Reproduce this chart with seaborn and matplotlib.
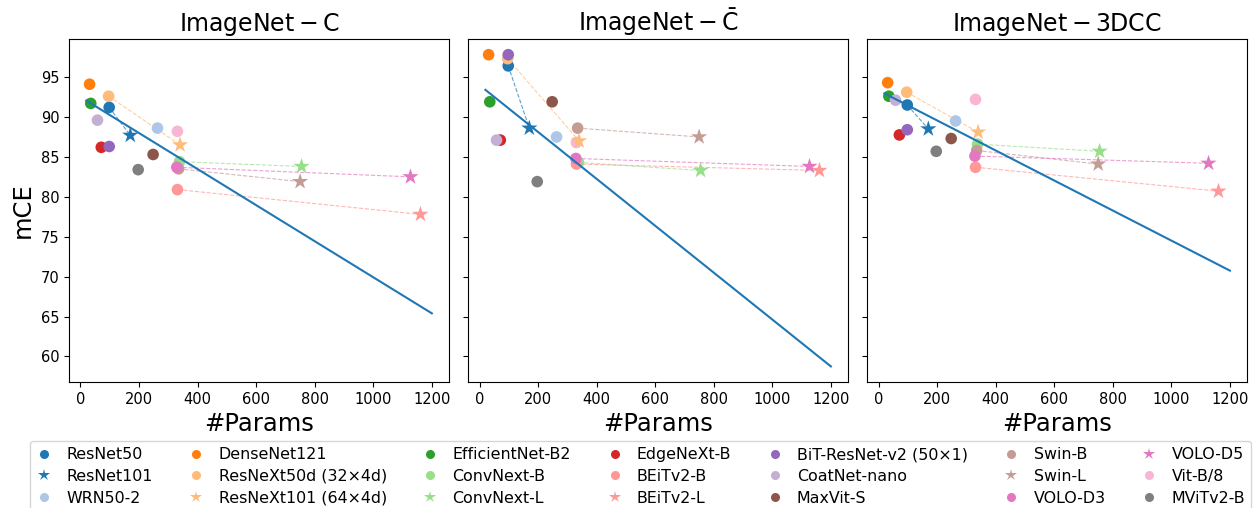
import numpy as np
import pandas as pd
import matplotlib
matplotlib.use("Agg")
import matplotlib.pyplot as plt
from matplotlib.lines import Line2D
import seaborn as sns

# model names, in legend order
models = [
    "ResNet50", "ResNet101", "WRN50-2",
    "DenseNet121", "ResNeXt50d (32×4d)", "ResNeXt101 (64×4d)",
    "EfficientNet-B2", "ConvNext-B", "ConvNext-L",
    "EdgeNeXt-B", "BEiTv2-B", "BEiTv2-L",
    "BiT-ResNet-v2 (50×1)", "CoatNet-nano", "MaxVit-S",
    "Swin-B", "Swin-L", "VOLO-D3",
    "VOLO-D5", "Vit-B/8", "MViTv2-B",
]

params = [98, 170, 263, 31, 96, 340, 35, 338, 755, 71, 331, 1161,
          98, 58, 248, 335, 750, 329, 1127, 331, 197]

mce_c = [91.2, 87.7, 88.6, 94.1, 92.6, 86.5, 91.7, 84.4, 83.8, 86.2, 80.9, 77.8,
         86.3, 89.6, 85.3, 83.5, 81.9, 83.7, 82.5, 88.2, 83.4]
mce_cbar = [96.4, 88.6, 87.5, 97.8, 97.3, 87.0, 91.9, 84.3, 83.3, 87.1, 84.1, 83.3,
            97.8, 87.1, 91.9, 88.6, 87.5, 84.8, 83.8, 86.8, 81.9]
mce_3dcc = [91.5, 88.5, 89.5, 94.3, 93.1, 88.1, 92.6, 86.6, 85.7, 87.75, 83.7, 80.7,
            88.4, 92.1, 87.3, 85.8, 84.1, 85.1, 84.2, 92.2, 85.7]

# trend line endpoints per benchmark
trend_x = [20, 1200]
trend_c = [92.05, 65.4]
trend_cbar = [93.4, 58.75]
trend_3dcc = [92.95, 70.75]

# pairs of (small, large) variants joined by dashed lines
pairs = [("ResNet50", "ResNet101"), ("ResNeXt50d (32×4d)", "ResNeXt101 (64×4d)"),
         ("ConvNext-B", "ConvNext-L"), ("BEiTv2-B", "BEiTv2-L"),
         ("Swin-B", "Swin-L"), ("VOLO-D3", "VOLO-D5")]

tab20 = plt.get_cmap("tab20").colors
color_idx = [0, 0, 1, 2, 3, 3, 4, 5, 5, 6, 7, 7, 8, 9, 10, 11, 11, 12, 12, 13, 14]
palette = {m: tab20[i] for m, i in zip(models, color_idx)}
stars = {"ResNet101", "ResNeXt101 (64×4d)", "ConvNext-L", "BEiTv2-L", "Swin-L", "VOLO-D5"}
markers = {m: ("*" if m in stars else "o") for m in models}

panels = [
    (r"$\mathrm{ImageNet-C}$", mce_c, trend_c),
    (r"$\mathrm{ImageNet-\bar{C}}$", mce_cbar, trend_cbar),
    (r"$\mathrm{ImageNet-3DCC}$", mce_3dcc, trend_3dcc),
]

fig, axes = plt.subplots(1, 3, figsize=(12.56, 5.08), dpi=100, sharey=True)
fig.subplots_adjust(left=0.055, right=0.993, top=0.923, bottom=0.248, wspace=0.05)

for k, (ax, (title, mce, trend)) in enumerate(zip(axes, panels)):
    df = pd.DataFrame({"model": models, "params": params, "mce": mce})
    df["star"] = df["model"].isin(stars)
    lookup = df.set_index("model")
    for a, b in pairs:
        ax.plot([lookup.loc[a, "params"], lookup.loc[b, "params"]],
                [lookup.loc[a, "mce"], lookup.loc[b, "mce"]],
                ls="--", lw=0.8, color=palette[b], alpha=0.7, zorder=1)
    sns.scatterplot(data=df[~df["star"]], x="params", y="mce", hue="model",
                    palette=palette, marker="o", s=70, linewidth=0,
                    legend=False, ax=ax, zorder=2)
    sns.scatterplot(data=df[df["star"]], x="params", y="mce", hue="model",
                    palette=palette, marker="*", s=150, linewidth=0,
                    legend=False, ax=ax, zorder=2)
    ax.plot(trend_x, trend, color=tab20[0], lw=1.5, zorder=3)
    ax.set_title(title, fontsize=17)
    ax.set_xlabel("#Params", fontsize=17.5)
    ax.set_ylabel("mCE" if k == 0 else "", fontsize=17.5)
    ax.set_xticks([0, 200, 400, 600, 800, 1000, 1200])
    ax.tick_params(labelsize=10.5)

handles = [Line2D([], [], ls="", marker=markers[m], color=palette[m],
                  markersize=9 if m in stars else 6.5, markeredgewidth=0)
           for m in models]
fig.legend(handles, models, ncol=7, loc="upper left",
           bbox_to_anchor=(30 / 1256, 1 - 441 / 508), borderaxespad=0,
           fontsize=11.4, handlelength=1.0, handletextpad=0.9,
           columnspacing=2.25, labelspacing=0.42)

fig.savefig("out.png", dpi=100)
